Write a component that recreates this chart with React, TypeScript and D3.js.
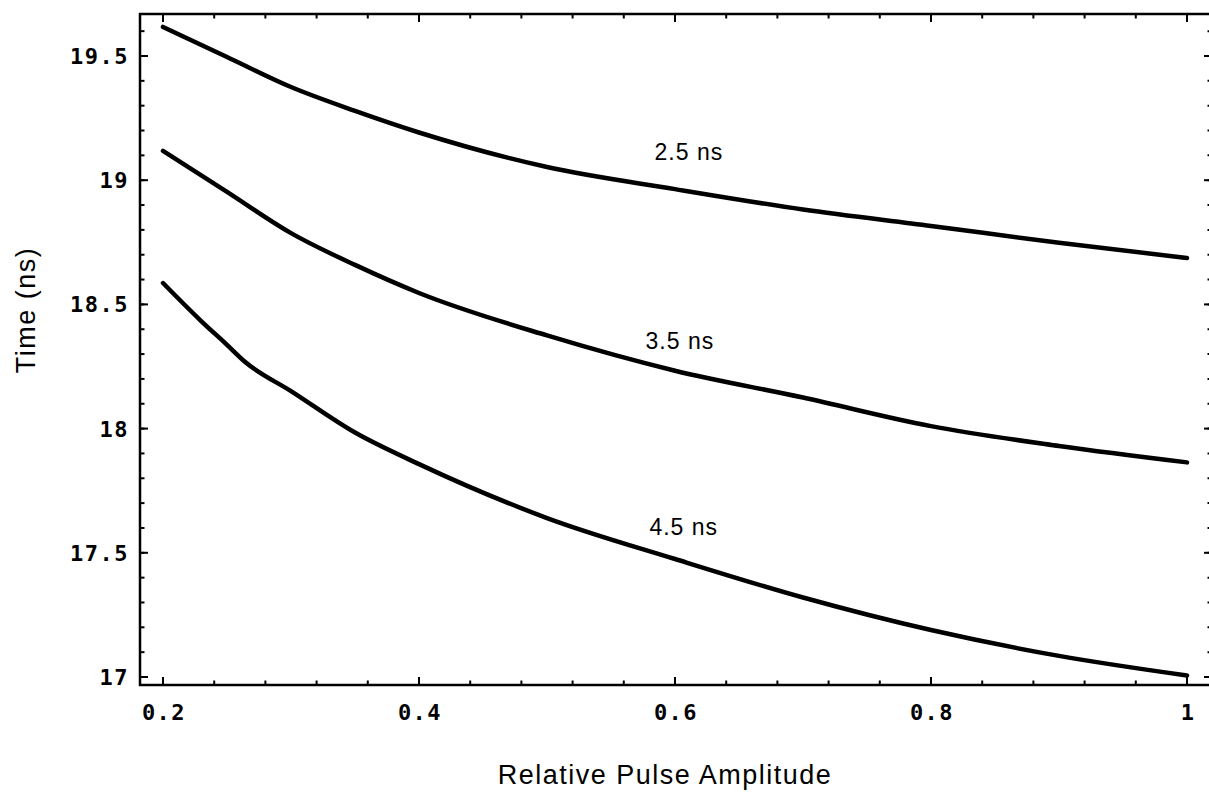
import React from 'react';
import * as d3 from 'd3';

// ---- data ----
const X_TICKS = [0.2, 0.4, 0.6, 0.8, 1.0];
const X_TICK_LABELS = ['0.2', '0.4', '0.6', '0.8', '1'];
const Y_TICKS = [17, 17.5, 18, 18.5, 19, 19.5];
const Y_TICK_LABELS = ['17', '17.5', '18', '18.5', '19', '19.5'];
const X_MINOR_STEP = 0.04;
const Y_MINOR_STEP = 0.1;

const SERIES_NAMES = ['2.5 ns', '3.5 ns', '4.5 ns'];

const AMP_25 = [0.2, 0.25, 0.3, 0.35, 0.4, 0.5, 0.6, 0.7, 0.8, 0.9, 1.0];
const TIME_25 = [19.617, 19.496, 19.375, 19.279, 19.192, 19.053, 18.964, 18.882, 18.816, 18.748, 18.687];

const AMP_35 = [0.2, 0.25, 0.3, 0.35, 0.4, 0.5, 0.6, 0.7, 0.8, 0.9, 1.0];
const TIME_35 = [19.118, 18.953, 18.787, 18.659, 18.546, 18.375, 18.233, 18.125, 18.01, 17.93, 17.864];

const AMP_45 = [0.2, 0.229, 0.25, 0.264, 0.3, 0.35, 0.4, 0.5, 0.6, 0.7, 0.8, 0.9, 1.0];
const TIME_45 = [18.586, 18.437, 18.337, 18.269, 18.151, 17.984, 17.857, 17.64, 17.475, 17.32, 17.189, 17.085, 17.006];

// label anchors (data coordinates, start of text / baseline)
const LABEL_AMP = [0.584, 0.577, 0.58];
const LABEL_TIME = [19.08, 18.32, 17.572];

const X_TITLE = 'Relative Pulse Amplitude';
const Y_TITLE = 'Time (ns)';

const W = 1209;
const H = 793;

export default function App() {
  const x = d3.scaleLinear().domain([0.2, 1.0]).range([163, 1187]);
  const y = d3.scaleLinear().domain([17, 19.5]).range([677, 56]);

  const frame = { left: 140, right: 1212, top: 14, bottom: 685 };
  const xMin = x.invert(frame.left);
  const xMax = x.invert(frame.right);
  const yMin = y.invert(frame.bottom);
  const yMax = y.invert(frame.top);

  const xMinor = d3
    .range(Math.ceil(xMin / X_MINOR_STEP - 1e-9), Math.floor(xMax / X_MINOR_STEP + 1e-9) + 1)
    .map((k) => +(k * X_MINOR_STEP).toFixed(4));
  const yMinor = d3
    .range(Math.ceil(yMin / Y_MINOR_STEP - 1e-9), Math.floor(yMax / Y_MINOR_STEP + 1e-9) + 1)
    .map((k) => +(k * Y_MINOR_STEP).toFixed(4));

  const series = [
    { xs: AMP_25, ys: TIME_25 },
    { xs: AMP_35, ys: TIME_35 },
    { xs: AMP_45, ys: TIME_45 },
  ];

  const line = d3
    .line<[number, number]>()
    .x((d) => x(d[0]))
    .y((d) => y(d[1]))
    .curve(d3.curveMonotoneX);

  const MAJ = 8;
  const MIN = 4.5;
  const tickFont = {
    fontFamily: '"DejaVu Sans Mono", monospace',
    fontSize: 22,
    fontWeight: 700,
    letterSpacing: 1.5,
  };
  const sansFont = { fontFamily: '"Liberation Sans", Arial, sans-serif' };

  return (
    <svg
      width={W}
      height={H}
      viewBox={`0 0 ${W} ${H}`}
      style={{ position: 'absolute', left: 0, top: 0, background: '#fff' }}
    >
      <rect x={0} y={0} width={W} height={H} fill="#fff" />
      {/* frame */}
      <rect
        x={frame.left}
        y={frame.top}
        width={frame.right - frame.left}
        height={frame.bottom - frame.top}
        fill="none"
        stroke="#000"
        strokeWidth={2.5}
      />
      {/* ticks */}
      <g stroke="#000" strokeWidth={2}>
        {xMinor.map((v, i) => (
          <g key={'xm' + i}>
            <line x1={x(v)} x2={x(v)} y1={frame.bottom} y2={frame.bottom - MIN} />
            <line x1={x(v)} x2={x(v)} y1={frame.top} y2={frame.top + MIN} />
          </g>
        ))}
        {yMinor.map((v, i) => (
          <g key={'ym' + i}>
            <line x1={frame.left} x2={frame.left + MIN} y1={y(v)} y2={y(v)} />
            <line x1={frame.right} x2={frame.right - MIN} y1={y(v)} y2={y(v)} />
          </g>
        ))}
        {X_TICKS.map((v, i) => (
          <g key={'xM' + i}>
            <line x1={x(v)} x2={x(v)} y1={frame.bottom} y2={frame.bottom - MAJ} />
            <line x1={x(v)} x2={x(v)} y1={frame.top} y2={frame.top + MAJ} />
          </g>
        ))}
        {Y_TICKS.map((v, i) => (
          <g key={'yM' + i}>
            <line x1={frame.left} x2={frame.left + MAJ} y1={y(v)} y2={y(v)} />
            <line x1={frame.right} x2={frame.right - MAJ} y1={y(v)} y2={y(v)} />
          </g>
        ))}
      </g>
      {/* tick labels */}
      <g fill="#000" style={tickFont}>
        {X_TICKS.map((v, i) => (
          <text key={'xl' + i} x={x(v) + 1} y={720} textAnchor="middle">
            {X_TICK_LABELS[i]}
          </text>
        ))}
        {Y_TICKS.map((v, i) => (
          <text key={'yl' + i} x={129} y={y(v) + 8} textAnchor="end">
            {Y_TICK_LABELS[i]}
          </text>
        ))}
      </g>
      {/* curves */}
      <g fill="none" stroke="#000" strokeWidth={4.5} strokeLinecap="round" strokeLinejoin="round">
        {series.map((s, i) => (
          <path key={'s' + i} d={line(s.xs.map((v, j) => [v, s.ys[j]] as [number, number])) || ''} />
        ))}
      </g>
      {/* curve labels */}
      <g fill="#000" style={{ ...sansFont, fontSize: 23, letterSpacing: 1 }}>
        {SERIES_NAMES.map((n, i) => (
          <text key={'n' + i} x={x(LABEL_AMP[i])} y={y(LABEL_TIME[i])}>
            {n}
          </text>
        ))}
      </g>
      {/* axis titles */}
      <text x={665} y={784} textAnchor="middle" style={{ ...sansFont, fontSize: 27, letterSpacing: 1.5 }}>
        {X_TITLE}
      </text>
      <text
        transform={`translate(35,310) rotate(-90)`}
        textAnchor="middle"
        style={{ ...sansFont, fontSize: 27, letterSpacing: 1.5 }}
      >
        {Y_TITLE}
      </text>
    </svg>
  );
}
